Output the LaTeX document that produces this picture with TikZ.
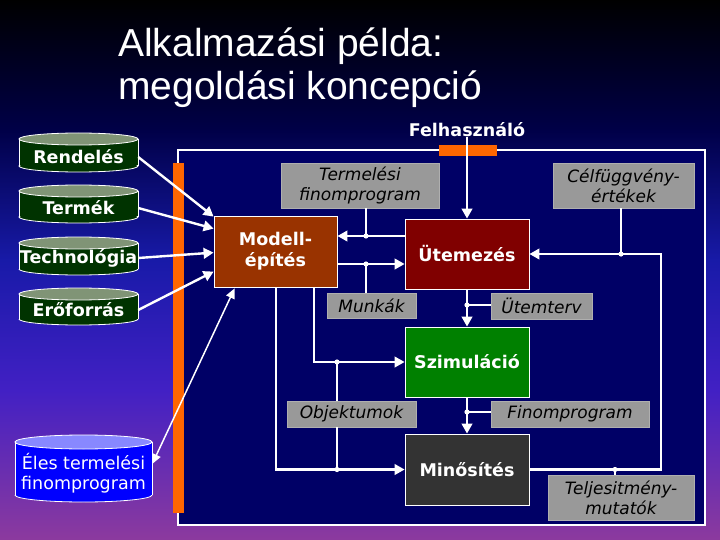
\documentclass[tikz,border=0pt]{standalone}
\usepackage{fontspec}
\setmainfont{DejaVu Sans}
\newfontfamily\titlefont{Liberation Sans}
\usetikzlibrary{arrows.meta,calc}
\definecolor{bgA}{RGB}{0,0,0}
\definecolor{bgB}{RGB}{0,0,72}
\definecolor{bgC}{RGB}{24,26,168}
\definecolor{bgD}{RGB}{66,32,196}
\definecolor{bgE}{RGB}{140,58,158}
\definecolor{navyfill}{RGB}{0,0,102}
\definecolor{orangebar}{RGB}{255,102,0}
\definecolor{modellc}{RGB}{153,51,0}
\definecolor{utemc}{RGB}{128,0,0}
\definecolor{szimc}{RGB}{0,128,0}
\definecolor{minoc}{RGB}{51,51,51}
\definecolor{grayboxc}{RGB}{153,153,153}
\definecolor{grayedge}{RGB}{175,175,175}
\definecolor{cylbody}{RGB}{0,51,0}
\definecolor{cylend}{RGB}{128,148,118}
\definecolor{elesbody}{RGB}{0,0,255}
\definecolor{elesend}{RGB}{136,136,255}
\newcommand\mycyl[7]{%
  \fill[#6] (#1,#4) ellipse [x radius=#2pt, y radius=#5pt];
  \fill[#6] ({#1-#2},#3) rectangle ({#1+#2},#4);
  \begin{scope}
    \clip ({#1-#2-2},#4) rectangle ({#1+#2+2},{#4+#5+2});
    \draw[white,line width=0.8pt] (#1,#4) ellipse [x radius=#2pt, y radius=#5pt];
  \end{scope}
  \draw[white,line width=0.8pt] ({#1-#2},#3) -- ({#1-#2},#4) ({#1+#2},#3) -- ({#1+#2},#4);
  \filldraw[fill=#7,draw=white,line width=0.8pt] (#1,#3) ellipse [x radius=#2pt, y radius=#5pt];
}
\begin{document}
\begin{tikzpicture}[x=1pt,y=-1pt,
  txt/.style={font=\fontsize{17.5}{20.5}\selectfont},
  mainbox/.style={txt,draw=white,line width=0.8pt,text=white,font=\fontsize{17.5}{21}\selectfont\bfseries,align=center,inner sep=0pt},
  graybox/.style={fill=grayboxc,draw=grayedge,line width=0.8pt,text=black,font=\fontsize{17}{20}\selectfont\itshape,align=center,inner sep=0pt},
  cyltext/.style={text=white,font=\fontsize{17.5}{21}\selectfont\bfseries,inner sep=0pt,minimum width=119pt,minimum height=20pt},
  line/.style={draw=white,line width=2.4pt},
  conn/.style={draw=white,line width=2.4pt,-{Triangle[length=10pt,width=10.5pt]}},
  dotc/.style={fill=white}
]
\useasboundingbox (0,0) rectangle (720,540);
% background gradient
\shade[top color=bgA,bottom color=bgB] (0,0) rectangle (720,131);
\shade[top color=bgB,bottom color=bgC] (0,130) rectangle (720,261);
\shade[top color=bgC,bottom color=bgD] (0,260) rectangle (720,391);
\shade[top color=bgD,bottom color=bgE] (0,390) rectangle (720,540);
% title
\node[anchor=base west,inner sep=0pt,text=white,font=\titlefont\fontsize{39}{43}\selectfont] (t1) at (118,57) {Alkalmazási példa:};
\node[anchor=base west,inner sep=0pt,text=white,font=\titlefont\fontsize{39}{43}\selectfont] (t2) at (118,100) {megoldási koncepció};
% frame
\draw[white,line width=1.2pt,fill=navyfill] (178,150) rectangle (705,525);
\fill[orangebar] (173,163) rectangle (184,513);
\fill[orangebar] (439,145) rectangle (497,156);
% cylinders
\mycyl{78.5}{59.5}{139}{166}{6}{cylbody}{cylend}
\mycyl{78.5}{59.5}{191}{217}{6}{cylbody}{cylend}
\mycyl{78.5}{59.5}{243}{269}{6}{cylbody}{cylend}
\mycyl{78.5}{59.5}{294}{319}{6}{cylbody}{cylend}
\mycyl{83.5}{68.5}{442}{495}{7}{elesbody}{elesend}
\node[cyltext] (rend) at (78.5,157) {Rendelés};
\node[cyltext] (term) at (78.5,208) {Termék};
\node[cyltext] (tech) at (78.5,258) {Technológia};
\node[cyltext] (erof) at (78.5,310) {Erőforrás};
\node[text=white,font=\fontsize{17.5}{20}\selectfont,align=center,inner sep=0pt,minimum width=137pt] (eles) at (83.5,473) {Éles termelési\\finomprogram};
% user
\node[anchor=base,inner sep=0pt,text=white,font=\fontsize{17.5}{21}\selectfont\bfseries] (felh) at (467,137) {Felhasználó};
% main boxes
\node[mainbox,fill=modellc,minimum width=123pt,minimum height=71pt] (modell) at (275.5,251.5) {Modell-\\építés};
\node[mainbox,fill=utemc,minimum width=124pt,minimum height=70pt] (utem) at (467,254) {Ütemezés};
\node[mainbox,fill=szimc,minimum width=124pt,minimum height=70pt] (szim) at (467,362) {Szimuláció};
\node[mainbox,fill=minoc,minimum width=124pt,minimum height=71pt] (mino) at (467,469.5) {Minősítés};
% gray label boxes
\node[graybox,minimum width=158pt,minimum height=45pt] (tfp) at (360,185.5) {Termelési\\finomprogram};
\node[graybox,minimum width=141pt,minimum height=45pt] (celf) at (623.5,185.5) {Célfüggvény-\\értékek};
\node[graybox,minimum width=89pt,minimum height=25pt] (munk) at (371.5,305.5) {Munkák};
\node[graybox,minimum width=101pt,minimum height=26pt] (utt) at (541.5,306) {Ütemterv};
\node[graybox,minimum width=129pt,minimum height=26pt] (obj) at (351.5,414) {Objektumok};
\node[graybox,minimum width=158pt,minimum height=26pt] (finp) at (570,414) {Finomprogram};
\node[graybox,minimum width=146pt,minimum height=45pt] (telj) at (621,497.5) {Teljesitmény-\\mutatók};
% junction coordinates
\coordinate (dotT) at (366,236);
\coordinate (dotM) at (366,264);
\coordinate (dotC) at (621,254);
\coordinate (dotU) at (467,305);
\coordinate (dotS) at (337,362);
\coordinate (dotF) at (467,412);
\coordinate (dotO) at (337,469.5);
\coordinate (dotP) at (615,469.5);
\coordinate (rb) at (661,469.5);
\coordinate (rt) at (661,254);
\coordinate (ms) at (314,362);
\coordinate (ml) at (276,469.5);
\coordinate (mA) at ($(modell.north west)+(0,1)$);
\coordinate (mB) at ($(modell.north west)+(0,13)$);
\coordinate (mC) at ($(modell.north west)+(0,37)$);
\coordinate (mD) at ($(modell.north west)+(0,56)$);
\coordinate (mE) at ($(modell.south west)+(21,1)$);
\coordinate (eA) at ($(eles.east)+(0,-9)$);
% connectors
\draw[conn] (felh.south) -- (utem.north);
\draw[conn] (utem.west |- dotT) -- (modell.east |- dotT);
\draw[line] (dotT |- tfp.south) -- (dotT);
\draw[conn] (modell.east |- dotM) -- (utem.west |- dotM);
\draw[line] (dotM) -- (dotM |- munk.north);
\draw[conn] (mino.east) -- (rb) -- (rt) -- (utem.east);
\draw[line] (dotC |- celf.south) -- (dotC);
\draw[line] (dotP) -- (dotP |- telj.north);
\draw[conn] (utem.south) -- (szim.north);
\draw[line] (dotU) -- (dotU -| utt.west);
\draw[conn] (szim.south) -- (mino.north);
\draw[line] (dotF) -- (dotF -| finp.west);
\draw[conn] (modell.south -| ms) -- (ms) -- (szim.west);
\draw[conn] (modell.south -| ml) -- (ml) -- (mino.west);
\draw[line] (dotS) -- (dotS |- obj.north);
\draw[line] (dotS |- obj.south) -- (dotO);
\draw[conn] (rend.east) -- (mA);
\draw[conn] (term.east) -- (mB);
\draw[conn] (tech.east) -- (mC);
\draw[conn] (erof.east) -- (mD);
\draw[draw=white,line width=1.5pt,{Triangle[length=10pt,width=9pt]}-{Triangle[length=10pt,width=9pt]}] (eA) -- (mE);
\foreach \d in {dotT,dotM,dotC,dotU,dotS,dotF,dotO,dotP} \fill[dotc] (\d) circle[radius=2.6pt];
\end{tikzpicture}
\end{document}
